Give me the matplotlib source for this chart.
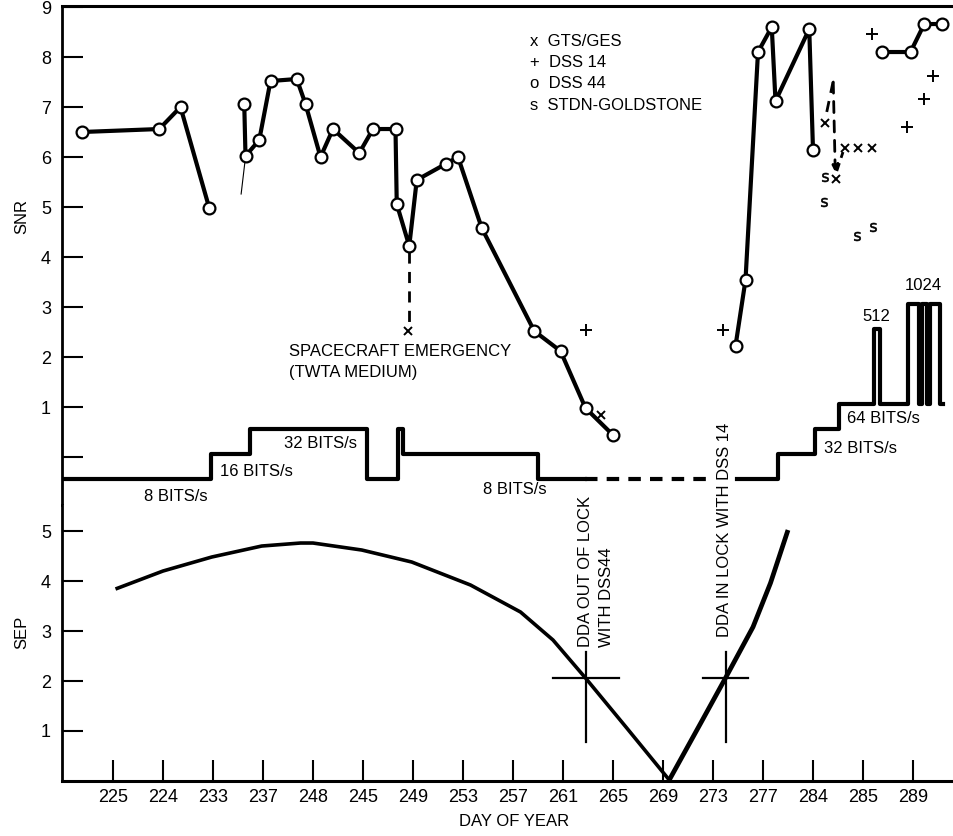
import matplotlib
matplotlib.use('Agg')
import matplotlib.pyplot as plt
import numpy as np

plt.rcParams['font.family'] = ['Liberation Sans', 'DejaVu Sans']

# x axis: tick positions (day) and the labels printed under them
tick_days = [225, 229, 233, 237, 241, 245, 249, 253, 257, 261, 265, 269, 273, 277, 281, 285, 289]
tick_labels = ['225', '224', '233', '237', '248', '245', '249', '253', '257',
               '261', '265', '269', '273', '277', '284', '285', '289']

# SNR, DSS 44 (circles), three connected runs
dss44_a_day = [222.5, 228.7, 230.4, 232.7]
dss44_a_snr = [6.5, 6.56, 7.0, 4.98]
dss44_b_day = [235.5, 235.6, 236.7, 237.6, 239.7, 240.4, 241.6, 242.6, 244.7, 245.8, 247.6,
               247.7, 248.7, 249.3, 251.6, 252.6, 254.5, 258.7, 260.8, 262.8, 265.0]
dss44_b_snr = [7.06, 6.02, 6.34, 7.52, 7.56, 7.06, 6.0, 6.56, 6.08, 6.56, 6.56,
               5.06, 4.22, 5.54, 5.86, 6.0, 4.58, 2.52, 2.12, 0.98, 0.44]
dss44_c_day = [274.8, 275.6, 276.6, 277.7, 278.0, 280.7, 281.0]
dss44_c_snr = [2.22, 3.54, 8.1, 8.6, 7.12, 8.56, 6.14]
dss44_d_day = [286.5, 288.8, 289.9, 291.3]
dss44_d_snr = [8.1, 8.1, 8.66, 8.66]

# SNR, other stations
dss14_day = [262.8, 273.8, 285.7, 290.6, 289.9, 288.5]
dss14_snr = [2.54, 2.54, 8.46, 7.62, 7.16, 6.6]
gts_day = [248.6, 264.0, 281.96, 282.84, 283.56, 284.6, 285.7]
gts_snr = [2.52, 0.84, 6.68, 5.56, 6.18, 6.18, 6.18]
stdn_day = [281.96, 281.9, 284.5, 285.8]
stdn_snr = [5.6, 5.1, 4.42, 4.6]

# bit rate (bits/s), step changes
rate_a_day = [220.92, 232.85, 235.95, 245.3, 247.8, 248.2, 259.0, 262.76]
rate_a_bps = [8, 16, 32, 8, 32, 16, 8, 8]
rate_gap_day = [262.76, 272.9]
rate_gap_bps = [8, 8]
rate_b_day = [274.9, 278.2, 281.15, 283.1, 285.9, 286.4, 288.6, 289.48, 289.72,
              290.12, 290.36, 291.16, 291.4]
rate_b_bps = [8, 16, 32, 64, 512, 64, 1024, 64, 1024, 64, 1024, 64, 64]

# SEP curve
sep_a_day = [225.2, 229.0, 232.9, 236.9, 240.0, 241.0, 244.9, 248.9, 253.6, 257.6,
             260.2, 262.8, 266.1, 269.5]
sep_a_val = [3.84, 4.2, 4.48, 4.7, 4.76, 4.76, 4.62, 4.38, 3.92, 3.38,
             2.82, 2.06, 1.06, 0.02]
sep_b_day = [269.5, 272.0, 274.0, 276.2, 277.6, 279.0]
sep_b_val = [0.02, 1.15, 2.06, 3.08, 3.96, 5.02]

# DDA lock events
lock_day = [262.8, 274.0]
lock_sep = 2.06


def rate_to_snr(bps):
    # bit rate drawn on the SNR scale, half a unit per doubling
    return -0.44 + 0.5 * (np.log2(np.asarray(bps, dtype=float)) - 3)


fig = plt.figure(figsize=(9.54, 8.36), dpi=100)
L = 62 / 954
ax = fig.add_axes([L, 0.3959, 1 - L, 0.9928 - 0.3959])
ax2 = fig.add_axes([L, 0.0658, 1 - L, 0.3959 - 0.0658])

xlo, xhi = 220.92, 292.28
ax.set_xlim(xlo, xhi)
ax2.set_xlim(xlo, xhi)
ax.set_ylim(-0.96, 9.02)
ax2.set_ylim(0, 5.52)

# ---- top panel: SNR ----
lw = 3
ckw = dict(marker='o', ms=8.5, mfc='white', mec='black', mew=1.6, color='black', lw=lw)
for d, s in [(dss44_a_day, dss44_a_snr), (dss44_b_day, dss44_b_snr),
             (dss44_c_day, dss44_c_snr), (dss44_d_day, dss44_d_snr)]:
    ax.plot(d, s, zorder=4, **ckw)

ax.plot([235.6, 235.25], [6.0, 5.26], color='black', lw=0.8)

ax.plot(dss14_day, dss14_snr, ls='none', marker='+', ms=8, mew=1.4, color='black')
ax.plot(gts_day, gts_snr, ls='none', marker='x', ms=6, mew=1.4, color='black')
ax.plot(stdn_day, stdn_snr, ls='none', marker=r'$\mathsf{s}$', ms=6.5, mew=0.4, color='black')

# spacecraft emergency
ax.plot([248.65, 248.65], [4.1, 2.62], color='black', lw=2, dashes=(4, 3))
ax.text(239.1, 2.12, 'SPACECRAFT EMERGENCY', fontsize=12, va='center', ha='left')
ax.text(239.1, 1.7, '(TWTA MEDIUM)', fontsize=12, va='center', ha='left')

# dashed arrows near day 282
ax.plot([282.6, 282.0], [7.5, 6.78], color='black', lw=2, dashes=(4, 3))
ax.annotate('', xy=(282.78, 5.7), xytext=(282.62, 7.5),
            arrowprops=dict(arrowstyle='-|>', color='black', lw=2, ls=(0, (4, 3)),
                            mutation_scale=10, shrinkA=0, shrinkB=0))
ax.plot([282.9, 283.4], [5.72, 6.1], color='black', lw=2, dashes=(3, 2))

# legend as text
leg_y = [8.32, 7.9, 7.47, 7.03]
leg_txt = ['x  GTS/GES', '+  DSS 14', 'o  DSS 44', 's  STDN-GOLDSTONE']
for y, t in zip(leg_y, leg_txt):
    ax.text(258.4, y, t, fontsize=12, va='center', ha='left')

# bit rate steps
ax.plot(rate_a_day, rate_to_snr(rate_a_bps), drawstyle='steps-post', color='black', lw=lw)
ax.plot(rate_gap_day, rate_to_snr(rate_gap_bps), color='black', lw=lw, dashes=(3, 2.2))
ax.plot(rate_b_day, rate_to_snr(rate_b_bps), drawstyle='steps-post', color='black', lw=lw)

bkw = dict(fontsize=12, va='center')
ax.text(230.0, -0.78, '8 BITS/s', ha='center', **bkw)
ax.text(233.6, -0.28, '16 BITS/s', ha='left', **bkw)
ax.text(238.7, 0.28, '32 BITS/s', ha='left', **bkw)
ax.text(254.6, -0.64, '8 BITS/s', ha='left', **bkw)
ax.text(281.9, 0.18, '32 BITS/s', ha='left', **bkw)
ax.text(283.7, 0.78, '64 BITS/s', ha='left', **bkw)
ax.text(286.1, 2.82, '512', ha='center', **bkw)
ax.text(289.8, 3.44, '1024', ha='center', **bkw)

ax.set_yticks(range(0, 10))
ax.set_yticklabels([''] + [str(i) for i in range(1, 10)])
ax.set_xticks([])
ax.spines['bottom'].set_visible(False)
ax.spines['right'].set_visible(False)
ax.spines['left'].set_linewidth(2)
ax.spines['top'].set_linewidth(2.2)
ax.tick_params(axis='y', direction='in', length=15, width=1.5, labelsize=13, pad=8)

# ---- bottom panel: SEP ----
ax2.plot(sep_a_day, sep_a_val, color='black', lw=2.6, solid_capstyle='butt')
ax2.plot(sep_b_day, sep_b_val, color='black', lw=3.4, solid_capstyle='butt')

for d, (h0, h1) in zip(lock_day, [(260.2, 265.5), (272.2, 275.8)]):
    ax2.plot([h0, h1], [lock_sep, lock_sep], color='black', lw=1.6)
    ax2.plot([d, d], [0.78, 2.58], color='black', lw=1.6)

ax2.text(262.84, 2.68, 'DDA OUT OF LOCK', rotation=90, fontsize=12, ha='center', va='bottom')
ax2.text(264.45, 2.68, 'WITH DSS44', rotation=90, fontsize=12, ha='center', va='bottom')
ax2.text(273.96, 2.88, 'DDA IN LOCK WITH DSS 14', rotation=90, fontsize=12,
         ha='center', va='bottom')

ax2.set_yticks([1, 2, 3, 4, 5])
ax2.set_xticks(tick_days)
ax2.set_xticklabels(tick_labels)
ax2.spines['top'].set_visible(False)
ax2.spines['right'].set_visible(False)
ax2.spines['left'].set_linewidth(2)
ax2.spines['bottom'].set_linewidth(2.2)
ax2.tick_params(axis='both', direction='in', length=15, width=1.5, labelsize=13)
ax2.tick_params(axis='y', pad=8)
ax2.tick_params(axis='x', pad=6)

fig.text(22 / 954, 1 - 217 / 836, 'SNR', rotation=90, fontsize=12, ha='center', va='center')
fig.text(22 / 954, 1 - 632 / 836, 'SEP', rotation=90, fontsize=12, ha='center', va='center')
fig.text(514 / 954, 1 - 822 / 836, 'DAY OF YEAR', fontsize=12, ha='center', va='center')

fig.savefig('out.png', dpi=100)
